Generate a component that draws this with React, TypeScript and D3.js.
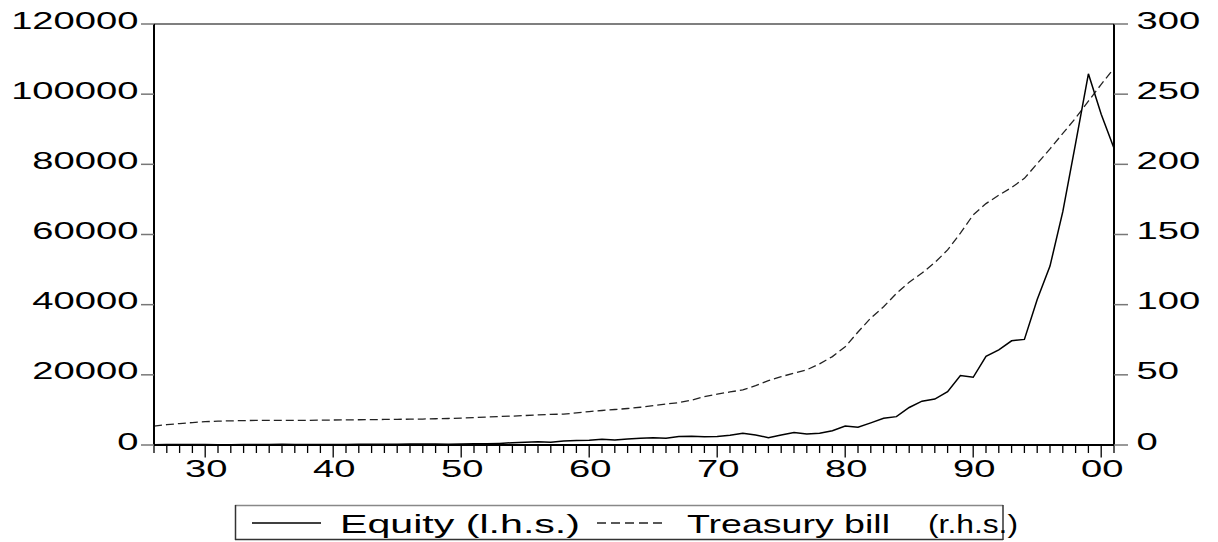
import React from "react";
import * as d3 from "d3";

const firstYear = 1926;
const lastYear = 2001;

// Equity index (l.h.s.), one value per year 1926..2001
const equity = [
  100, 120, 150, 130, 110, 90, 100, 130, 150, 170,
  190, 170, 150, 140, 120, 150, 180, 200, 220, 240,
  280, 270, 260, 240, 290, 330, 330, 450, 650, 800,
  940, 780, 1140, 1250, 1340, 1620, 1430, 1700, 1900, 2100,
  1920, 2450, 2470, 2380, 2450, 2800, 3330, 2850, 2090, 2850,
  3550, 3140, 3330, 4050, 5420, 5040, 6300, 7600, 8080, 10700,
  12500, 13100, 15200, 19800, 19300, 25300, 27100, 29700, 30100, 41500,
  51000, 66500, 86000, 105800, 94300, 84600,
];

// Treasury bill index (r.h.s.), one value per year 1926..2001
const tbill = [
  13.5, 14.5, 15.3, 16.0, 16.6, 17.0, 17.2, 17.4, 17.5, 17.5,
  17.5, 17.6, 17.6, 17.7, 17.8, 17.9, 18.0, 18.1, 18.2, 18.3,
  18.4, 18.5, 18.7, 18.9, 19.2, 19.5, 19.9, 20.3, 20.6, 21.0,
  21.5, 21.8, 22.0, 22.9, 23.8, 24.6, 25.3, 26.0, 26.9, 28.0,
  29.2, 30.2, 32.0, 34.4, 36.3, 37.8, 39.3, 42.3, 45.8, 48.7,
  51.2, 53.6, 57.8, 63.0, 70.0, 80.5, 90.5, 98.5, 108, 116,
  122.5, 130, 139, 151, 164, 172, 178, 183.5, 190, 200.5,
  211, 222, 233, 245, 257, 268.5,
];

const leftTicks = [0, 20000, 40000, 60000, 80000, 100000, 120000];
const rightTicks = [0, 50, 100, 150, 200, 250, 300];
const xTickYears = [1930, 1940, 1950, 1960, 1970, 1980, 1990, 2000];
const xTickLabels = ["30", "40", "50", "60", "70", "80", "90", "00"];

const legendLabels = ["Equity (l.h.s.)", "Treasury bill", "(r.h.s.)"];

const W = 1218;
const H = 542;
const L = 154;
const R = 1114;
const T = 24;
const B = 445;

const FONT = "'Liberation Sans', Arial, sans-serif";
const SX = 1.66;

export default function App() {
  const x = d3.scaleLinear().domain([firstYear, lastYear]).range([L, R]);
  const yL = d3.scaleLinear().domain([0, 120000]).range([B, T]);
  const yR = d3.scaleLinear().domain([0, 300]).range([B, T]);

  const eqData = equity.map((v, i) => [firstYear + i, v] as [number, number]);
  const tbData = tbill.map((v, i) => [firstYear + i, v] as [number, number]);

  const eqLine = d3
    .line<[number, number]>()
    .x((d) => x(d[0]))
    .y((d) => yL(d[1]))(eqData) as string;
  const tbLine = d3
    .line<[number, number]>()
    .x((d) => x(d[0]))
    .y((d) => yR(d[1]))(tbData) as string;

  const years = d3.range(firstYear, lastYear + 1);

  return (
    <svg
      width={W}
      height={H}
      style={{ position: "absolute", left: 0, top: 0, background: "#fff" }}
      fontFamily={FONT}
    >
      <rect x={0} y={0} width={W} height={H} fill="#fff" />
      {/* series */}
      <path
        d={tbLine}
        fill="none"
        stroke="#222"
        strokeWidth={1.3}
        strokeDasharray="8,4"
      />
      <path d={eqLine} fill="none" stroke="#000" strokeWidth={1.5} />

      {/* frame */}
      <line x1={L} x2={R} y1={T} y2={T} stroke="#555" strokeWidth={1.6} />
      <line x1={L} x2={L} y1={T} y2={B} stroke="#000" strokeWidth={2} />
      <line x1={R} x2={R} y1={T} y2={B} stroke="#000" strokeWidth={2} />
      <line x1={L} x2={R} y1={B} y2={B} stroke="#000" strokeWidth={2} />

      {/* x ticks */}
      {years.map((yr) => {
        const major = xTickYears.includes(yr);
        return (
          <line
            key={"xt" + yr}
            x1={x(yr)}
            x2={x(yr)}
            y1={B}
            y2={major ? B + 12.5 : B + 8}
            stroke="#000"
            strokeWidth={1.3}
          />
        );
      })}
      {xTickYears.map((yr, i) => (
        <text
          key={"xl" + yr}
          transform={`translate(${x(yr) + 1},${477}) scale(${SX},1)`}
          textAnchor="middle"
          fontSize={23}
          fill="#000"
        >
          {xTickLabels[i]}
        </text>
      ))}

      {/* left axis */}
      {leftTicks.map((v) => (
        <g key={"lt" + v}>
          <line
            x1={L - 13}
            x2={L}
            y1={yL(v)}
            y2={yL(v)}
            stroke="#777"
            strokeWidth={1.5}
          />
          <text
            transform={`translate(${138.5},${yL(v) + 4.5}) scale(${SX},1)`}
            textAnchor="end"
            fontSize={23}
            fill="#000"
          >
            {String(v)}
          </text>
        </g>
      ))}

      {/* right axis */}
      {rightTicks.map((v) => (
        <g key={"rt" + v}>
          <line
            x1={R}
            x2={R + 14}
            y1={yR(v)}
            y2={yR(v)}
            stroke="#777"
            strokeWidth={1.5}
          />
          <text
            transform={`translate(${1136.5},${yR(v) + 4.5}) scale(${SX},1)`}
            textAnchor="start"
            fontSize={23}
            fill="#000"
          >
            {String(v)}
          </text>
        </g>
      ))}

      {/* legend */}
      <g>
        <line x1={235} x2={1003} y1={505.5} y2={505.5} stroke="#888" strokeWidth={1.5} />
        <line x1={235} x2={1003} y1={539.5} y2={539.5} stroke="#333" strokeWidth={1.5} />
        <line x1={235.5} x2={235.5} y1={505} y2={540} stroke="#333" strokeWidth={1.5} />
        <line x1={1003} x2={1003} y1={505} y2={540} stroke="#333" strokeWidth={1.5} />
        <line x1={252} x2={321} y1={523} y2={523} stroke="#000" strokeWidth={1.3} />
        <line
          x1={597}
          x2={663}
          y1={523}
          y2={523}
          stroke="#222"
          strokeWidth={1.3}
          strokeDasharray="9,5"
        />
        <text
          x={340}
          y={532.5}
          fontSize={25}
          textLength={240}
          lengthAdjust="spacingAndGlyphs"
          fill="#000"
        >
          {legendLabels[0]}
        </text>
        <text
          x={687}
          y={532.5}
          fontSize={25}
          textLength={203}
          lengthAdjust="spacingAndGlyphs"
          fill="#000"
        >
          {legendLabels[1]}
        </text>
        <text
          x={928}
          y={532.5}
          fontSize={25}
          textLength={90}
          lengthAdjust="spacingAndGlyphs"
          fill="#000"
        >
          {legendLabels[2]}
        </text>
      </g>
    </svg>
  );
}
